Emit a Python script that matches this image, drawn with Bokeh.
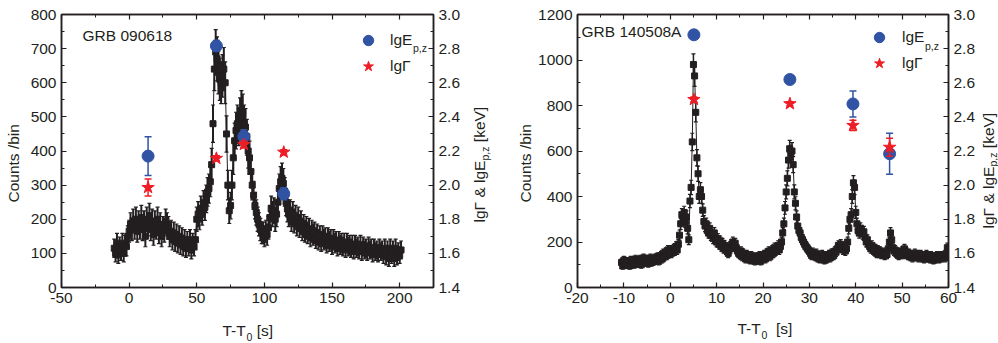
import numpy as np
from bokeh.plotting import figure
from bokeh.models import (Range1d, LinearAxis, FixedTicker, ColumnDataSource, Label,
                          Legend, LegendItem)
from bokeh.layouts import row, column
from bokeh.embed import file_html
from bokeh.resources import INLINE

# ---------------- data ----------------
# GRB 090618 light curve: 1 s bins starting at T-T0 = -11 s
grb1_start = -11.0
grb1_bin = 1.0
grb1_counts = [
    115, 100, 130, 95, 120, 105, 130, 100, 125, 120,
    150, 165, 185, 170, 195, 175, 200, 165, 190, 175,
    205, 170, 190, 150, 200, 185, 210, 170, 195, 155,
    190, 175, 200, 160, 185, 150, 175, 165, 195, 185,
    175, 150, 165, 140, 160, 135, 155, 130, 150, 125,
    145, 120, 140, 115, 135, 120, 140, 110, 130, 120,
    140, 200, 215, 205, 230, 220, 245, 235, 260, 280,
    290, 310, 360, 480, 640, 690, 670, 630, 610, 600,
    620, 640, 600, 450, 300, 225, 240, 300, 380, 430,
    460, 480, 470, 500, 520, 510, 480, 470, 440, 400,
    380, 340, 300, 270, 240, 220, 200, 185, 170, 160,
    160, 150, 165, 155, 175, 205, 230, 215, 225, 200,
    215, 250, 290, 310, 320, 305, 280, 250, 230, 215,
    220, 200, 215, 195, 205, 185, 200, 180, 190, 170,
    180, 165, 175, 160, 170, 150, 165, 155, 160, 145,
    155, 140, 150, 135, 150, 140, 145, 130, 145, 135,
    140, 125, 140, 130, 135, 120, 135, 125, 130, 120,
    130, 115, 130, 120, 125, 115, 125, 110, 125, 115,
    120, 110, 125, 105, 120, 110, 115, 105, 120, 110,
    115, 100, 115, 105, 110, 100, 115, 105, 110, 95,
    115, 90, 110, 85, 115, 95, 110, 85, 115, 90,
    105, 95, 110,
]
grb1_err_factor = 2.5   # error bar = factor * sqrt(counts)
grb1_pulse_t = [14.0, 64.5, 84.8, 114.3]
grb1_lgEp = [2.17, 2.816, 2.285, 1.95]
grb1_lgEp_err = [0.113, 0.032, 0.04, 0.035]
grb1_lgG = [1.986, 2.157, 2.238, 2.193]
grb1_lgG_err = [0.05, 0.015, 0.02, 0.015]

# GRB 140508A light curve: 0.25 s bins starting at T-T0 = -10.5 s
grb2_start = -10.5
grb2_bin = 0.25
grb2_counts = [
    110, 95,
    120, 100, 115, 105,  110, 95, 120, 105,  115, 100, 125, 110,  105, 120, 125, 100,
    115, 130, 110, 120,  125, 105, 120, 130,  110, 125, 115, 130,  120, 135, 115, 130,
    140, 125, 150, 135,  155, 140, 165, 150,  165, 150, 160, 170,  160, 180, 165, 190,
    230, 280, 320, 300,  330, 290, 310, 260,  210, 380, 440, 640,  980, 930, 770, 570,
    500, 400, 430, 400,  340, 290, 270, 280,  250, 240, 260, 230,  230, 215, 240, 210,
    200, 215, 190, 205,  180, 195, 170, 185,  165, 175, 150, 170,  170, 190, 200, 185,
    195, 175, 160, 150,  145, 160, 135, 150,  140, 125, 145, 130,  135, 120, 140, 125,
    130, 115, 135, 125,  120, 140, 115, 135,  130, 145, 125, 150,  140, 160, 135, 155,
    165, 150, 175, 160,  170, 185, 165, 180,  200, 240, 280, 350,  420, 480, 560, 610,
    590, 600, 540, 420,  370, 310, 270, 250,  240, 220, 210, 200,  190, 180, 175, 165,
    160, 150, 140, 155,  145, 135, 150, 130,  140, 125, 135, 145,  130, 120, 140, 125,
    135, 145, 130, 150,  150, 140, 160, 155,  170, 185, 175, 190,  180, 165, 175, 160,
    170, 200, 260, 300,  320, 400, 460, 440,  330, 280, 250, 240,  260, 250, 235, 245,
    220, 200, 210, 190,  180, 170, 185, 165,  160, 170, 150, 165,  150, 160, 145, 155,
    150, 140, 155, 145,  170, 200, 240, 210,  175, 160, 165, 150,  150, 140, 155, 145,
    160, 145, 170, 150,  155, 140, 150, 135,  145, 130, 140, 150,  135, 145, 130, 140,
    145, 130, 140, 125,  135, 145, 130, 140,  125, 140, 130, 120,  135, 125, 140, 130,
    125, 140, 130, 135,  140, 130, 150, 175,
    170,
]
grb2_err_factor = 1.5
grb2_pulse_t = [5.1, 25.8, 39.4, 47.3]
grb2_lgEp = [2.881, 2.619, 2.476, 2.184]
grb2_lgEp_err = [0.01, 0.01, 0.076, 0.12]
grb2_lgG = [2.502, 2.477, 2.35, 2.222]
grb2_lgG_err = [0.015, 0.012, 0.03, 0.053]

left_ticks_x = [-50, 0, 50, 100, 150, 200]
right_ticks_x = [-20, -10, 0, 10, 20, 30, 40, 50, 60]
left_ticks_y = [0, 100, 200, 300, 400, 500, 600, 700, 800]
right_ticks_y = [0, 200, 400, 600, 800, 1000, 1200]
lg_ticks = [1.4, 1.6, 1.8, 2.0, 2.2, 2.4, 2.6, 2.8, 3.0]

# ---------------- style / layout ----------------
FONT = "Liberation Sans"
FS = 15.5
SUBFS = 10.5
MID = 0.35          # baseline lies this many em below the text's middle
INK = "#231f20"
BLUE = "#3153a4"
RED = "#ee1c25"
PAGE_H = 343
F_H = 314
B_TOP = 14
FRAME_H = 273
B_BOT = F_H - B_TOP - FRAME_H
XT_H = PAGE_H - F_H

AW = {' ': 278, '&': 667, ',': 278, '-': 333, '/': 278, '[': 278, ']': 278,
      'A': 667, 'B': 667, 'C': 722, 'E': 667, 'G': 778, 'R': 722, 'T': 611, 'V': 667,
      'b': 556, 'e': 556, 'g': 556, 'i': 222, 'k': 500, 'l': 222, 'n': 556, 'o': 556,
      'p': 556, 's': 500, 't': 278, 'u': 556, 'z': 500, 'Γ': 556}


def tw(s, size):
    return sum(AW.get(c, 556) for c in s) * size / 1000.0


def style_axis(ax, show=True):
    ax.axis_line_color = INK
    ax.axis_line_width = 1.5
    ax.major_tick_in = 5
    ax.major_tick_out = 0
    ax.minor_tick_in = 3
    ax.minor_tick_out = 0
    ax.major_tick_line_color = INK
    ax.minor_tick_line_color = INK
    ax.major_tick_line_width = 1.2
    ax.minor_tick_line_width = 1.0
    ax.major_label_text_font = FONT
    ax.major_label_text_color = INK
    ax.major_label_standoff = 5
    if show:
        ax.major_label_text_font_size = f"{FS}px"
    else:
        ax.major_label_text_font_size = "0px"
        ax.major_label_standoff = 0


def ticker(major):
    step = major[1] - major[0]
    minor = [m + step / 2 for m in major[:-1]]
    return FixedTicker(ticks=major, minor_ticks=minor)


def fmt(v):
    if isinstance(v, float):
        return f"{v:.1f}"
    return str(v)


def text_fig(w, h):
    f = figure(width=w, height=h, x_range=Range1d(0, 1), y_range=Range1d(0, 1),
               output_backend="svg", toolbar_location=None, x_axis_type=None, y_axis_type=None,
               title_location=None, min_border=0, min_border_left=0, min_border_right=0,
               min_border_top=0, min_border_bottom=0)
    f.outline_line_color = None
    f.background_fill_color = "white"
    f.border_fill_color = "white"
    return f


def panel(width, bl, br, xr, yr, xt, yt, counts, start, binw, efac, pt, ep, eperr, lg, lgerr,
          marker_size, bar_width):
    p = figure(width=width, height=F_H, x_range=Range1d(*xr), y_range=Range1d(*yr),
               output_backend="svg", toolbar_location=None,
               min_border_left=bl, min_border_right=br,
               min_border_top=B_TOP, min_border_bottom=B_BOT)
    p.extra_y_ranges = {"lg": Range1d(1.4, 3.0)}
    p.grid.visible = False
    p.outline_line_color = INK
    p.outline_line_width = 1.5
    p.background_fill_color = "white"
    p.border_fill_color = "white"

    xa = p.xaxis[0]
    xa.ticker = ticker(xt)
    xa.major_label_overrides = {v: fmt(v) for v in xt}
    style_axis(xa)
    ya = p.yaxis[0]
    ya.ticker = ticker(yt)
    ya.major_label_overrides = {v: fmt(v) for v in yt}
    style_axis(ya)

    top = LinearAxis(ticker=ticker(xt))
    top.major_label_overrides = {v: "" for v in xt}
    style_axis(top, show=False)
    p.add_layout(top, "above")

    ra = LinearAxis(y_range_name="lg", ticker=ticker(lg_ticks))
    ra.major_label_overrides = {v: fmt(v) for v in lg_ticks}
    style_axis(ra)
    p.add_layout(ra, "right")

    c = np.array(counts, dtype=float)
    t = start + binw * np.arange(len(c))
    err = efac * np.sqrt(c)
    src = ColumnDataSource(dict(t=t, c=c, lo=c - err, hi=c + err))
    p.segment("t", "lo", "t", "hi", source=src, line_color=INK, line_width=bar_width)
    p.scatter("t", "hi", source=src, marker="dash", size=4, line_color=INK, line_width=1.2)
    p.scatter("t", "lo", source=src, marker="dash", size=4, line_color=INK, line_width=1.2)
    p.line("t", "c", source=src, line_color=INK, line_width=1)
    p.scatter("t", "c", source=src, marker="square", size=marker_size, color=INK)

    ept = np.array(pt)
    e = np.array(ep)
    ee = np.array(eperr)
    esrc = ColumnDataSource(dict(t=ept, v=e, lo=e - ee, hi=e + ee))
    p.segment("t", "lo", "t", "hi", source=esrc, line_color=BLUE, line_width=1.5, y_range_name="lg")
    p.scatter("t", "hi", source=esrc, marker="dash", size=7, line_color=BLUE, line_width=1.5, y_range_name="lg")
    p.scatter("t", "lo", source=esrc, marker="dash", size=7, line_color=BLUE, line_width=1.5, y_range_name="lg")
    ep_r = p.scatter("t", "v", source=esrc, marker="circle", size=12, color=BLUE, y_range_name="lg")

    g = np.array(lg)
    ge = np.array(lgerr)
    gsrc = ColumnDataSource(dict(t=ept, v=g, lo=g - ge, hi=g + ge))
    p.segment("t", "lo", "t", "hi", source=gsrc, line_color=RED, line_width=1.5, y_range_name="lg")
    p.scatter("t", "hi", source=gsrc, marker="dash", size=7, line_color=RED, line_width=1.5, y_range_name="lg")
    p.scatter("t", "lo", source=gsrc, marker="dash", size=7, line_color=RED, line_width=1.5, y_range_name="lg")
    g_r = p.scatter("t", "v", source=gsrc, marker="star", size=13, color=RED, y_range_name="lg")
    return p, ep_r, g_r


class Placer:
    """Place texts by their baseline start, given in absolute page pixels (x right, y down)."""
    def __init__(self, p, frame_left_abs, frame_bottom_abs):
        self.p = p
        self.fl = frame_left_abs
        self.fb = frame_bottom_abs

    def put(self, X, Y, text, size=FS, vertical=False):
        d = MID * size
        if vertical:
            ax, ay, ang = X - d, Y, np.pi / 2
        else:
            ax, ay, ang = X, Y - d, 0.0
        self.p.add_layout(Label(x=ax - self.fl, y=self.fb - ay, x_units="screen", y_units="screen",
                                text=text, text_font=FONT, text_font_size=f"{size}px",
                                text_color=INK, angle=ang, text_align="left",
                                text_baseline="middle"))

    def vtitle(self, bx, y0, pieces, sub_shift=4):
        y = y0
        for text, sub in pieces:
            size = SUBFS if sub else FS
            s = text.lstrip(" ")
            y -= tw(text[:len(text) - len(s)], size)
            self.put(bx + (sub_shift if sub else 0), y, s, size, vertical=True)
            y -= tw(s, size)

    def htitle(self, x0, by, pieces, sub_shift):
        x = x0
        for text, sub in pieces:
            size = SUBFS if sub else FS
            s = text.lstrip(" ")
            x += tw(text[:len(text) - len(s)], size)
            self.put(x, by + (sub_shift if sub else 0), s, size)
            x += tw(s, size)


def legend(p, x, y, standoff, ep_r, g_r):
    lg = Legend(items=[LegendItem(label="lgE", renderers=[ep_r]),
                       LegendItem(label="lgΓ", renderers=[g_r])],
                location=(x, y), orientation="vertical", padding=0, margin=0, spacing=0,
                glyph_width=26, glyph_height=26, label_standoff=standoff,
                label_text_font=FONT, label_text_font_size=f"{FS}px", label_text_color=INK,
                border_line_color=None, background_fill_alpha=0)
    p.add_layout(lg)


# ---------------- widths (sum = 998) ----------------
TL1_W, F1_W, TR1_W, TL2_W, F2_W, TR2_W = 22, 444, 32, 37, 443, 20
X_TL1 = 0
X_F1 = X_TL1 + TL1_W
X_TR1 = X_F1 + F1_W
X_TL2 = X_TR1 + TR1_W
X_F2 = X_TL2 + TL2_W
X_TR2 = X_F2 + F2_W
F1_BL, F1_BR = 39, 33
F2_BL, F2_BR = 41, 29

# ---------------- left panel ----------------
p1, e1, g1 = panel(F1_W, F1_BL, F1_BR, (-50, 225), (0, 800), left_ticks_x, left_ticks_y,
                   grb1_counts, grb1_start, grb1_bin, grb1_err_factor, grb1_pulse_t,
                   grb1_lgEp, grb1_lgEp_err, grb1_lgG, grb1_lgG_err, 6, 2.0)
fl1 = X_F1 + F1_BL
fb1 = B_TOP + FRAME_H
pl1 = Placer(p1, fl1, fb1)
pl1.put(82, 40, "GRB 090618")
legend(p1, 355 - fl1, fb1 - 79, 9, e1, g1)
pl1.put(390 + tw("lgE", FS), 51, "p,z", SUBFS)

tl1 = text_fig(TL1_W, PAGE_H)
Placer(tl1, X_TL1, PAGE_H).vtitle(18, 202, [("Counts /bin", False)])
tr1 = text_fig(TR1_W, PAGE_H)
Placer(tr1, X_TR1, PAGE_H).vtitle(484, 222, [("lgΓ & lgE", False), ("p,z", True), (" [keV]", False)])
xt1 = text_fig(F1_W, XT_H)
# the column aligns this strip's frame with the panel frame above it
Placer(xt1, fl1, PAGE_H).htitle(222, 335, [("T-T", False), ("0", True), (" [s]", False)], 5)

# ---------------- right panel ----------------
p2, e2, g2 = panel(F2_W, F2_BL, F2_BR, (-20, 60), (0, 1200), right_ticks_x, right_ticks_y,
                   grb2_counts, grb2_start, grb2_bin, grb2_err_factor, grb2_pulse_t,
                   grb2_lgEp, grb2_lgEp_err, grb2_lgG, grb2_lgG_err, 6, 1.5)
fl2 = X_F2 + F2_BL
fb2 = B_TOP + FRAME_H
pl2 = Placer(p2, fl2, fb2)
pl2.put(580, 36, "GRB 140508A")
legend(p2, 865 - fl2, fb2 - 76, 10, e2, g2)
pl2.put(901 + tw("lgE", FS), 49, "p,z", SUBFS)

tl2 = text_fig(TL2_W, PAGE_H)
Placer(tl2, X_TL2, PAGE_H).vtitle(530, 202, [("Counts /bin", False)])
tr2 = text_fig(TR2_W, PAGE_H)
Placer(tr2, X_TR2, PAGE_H).vtitle(993, 228, [("lgΓ & lgE", False), ("p,z", True), (" [keV]", False)],
                                   sub_shift=3.5)
xt2 = text_fig(F2_W, XT_H)
Placer(xt2, fl2, PAGE_H).htitle(736, 333, [("T-T", False), ("0", True), ("  [s]", False)], 5)

layout = row(tl1, column(p1, xt1), tr1, tl2, column(p2, xt2), tr2)
open("out.html", "w").write(file_html(layout, INLINE))
